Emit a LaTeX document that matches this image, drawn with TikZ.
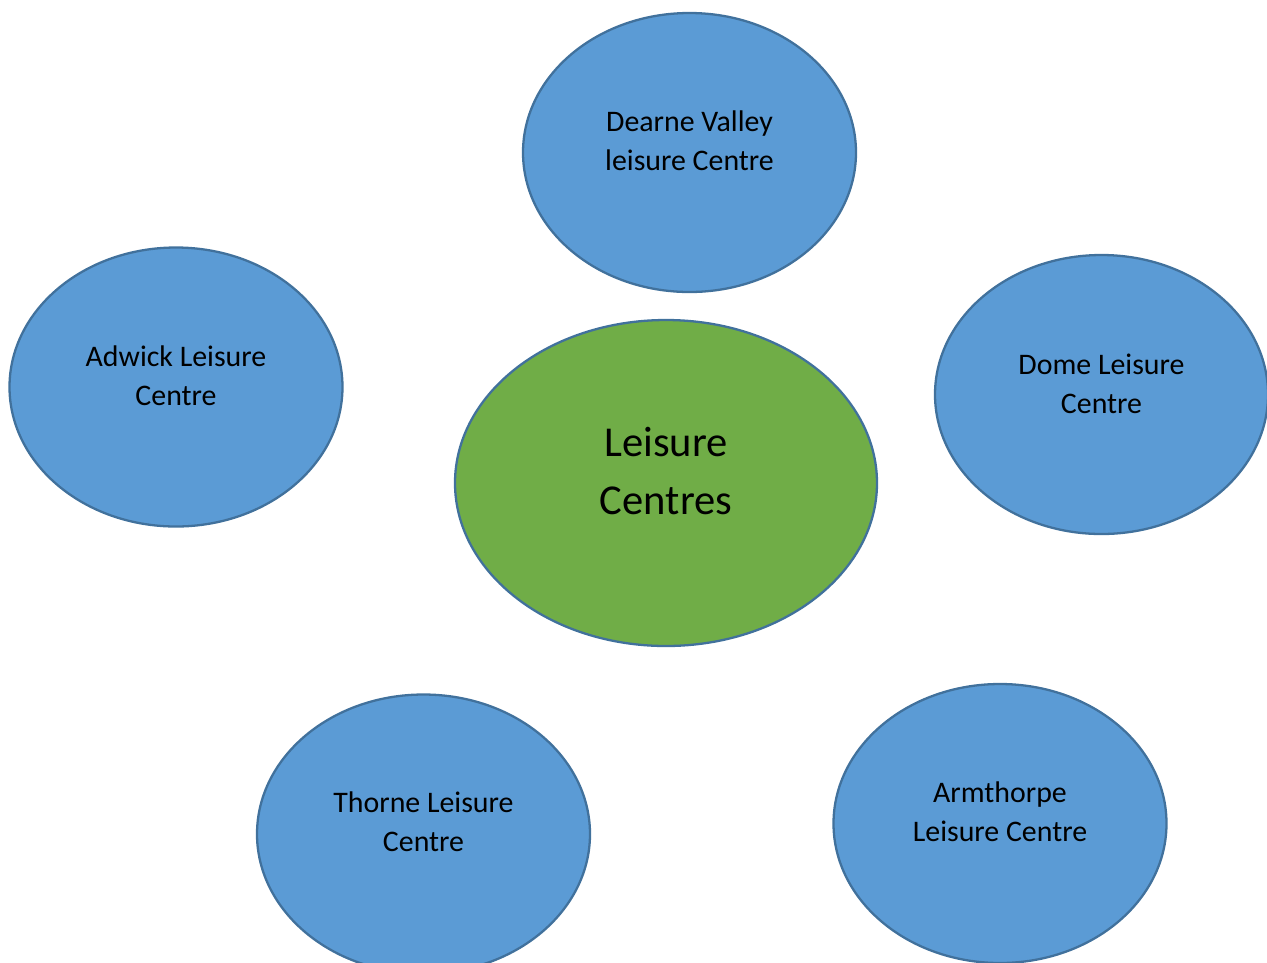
\documentclass[tikz,border=0pt]{standalone}
\usepackage{fontspec}
\setmainfont{Carlito}
\usepackage{tikz}
\usetikzlibrary{shapes.geometric, positioning}
\definecolor{centreblue}{HTML}{5B9BD5}
\definecolor{hubgreen}{HTML}{70AD47}
\definecolor{edgeblue}{HTML}{41719C}

\begin{document}
\begin{tikzpicture}[x=0.35pt, y=-0.35pt,
            site/.style={ellipse, draw=edgeblue, fill=centreblue, line width=0.8pt, minimum width=333*0.35pt, minimum height=279*0.35pt, inner sep=0pt},
            hub/.style={ellipse, draw=edgeblue, fill=hubgreen, line width=0.8pt, minimum width=422*0.35pt, minimum height=326*0.35pt, inner sep=0pt},
            sitetext/.style={align=center, font=\fontsize{10.45}{13.7}\selectfont, inner sep=0pt},
            hubtext/.style={align=center, font=\fontsize{14.9}{20}\selectfont, inner sep=0pt}
        ]
\useasboundingbox (0,0) rectangle (1267,962);

% outer centres
            \node[site] (dearne) at (689.5,152.5) {};
            \node[site] (adwick) at (176,387) {};
            \node[site] (dome) at (1101.5,394.5) {};
            \node[site] (thorne) at (423.5,834) {};
            \node[site] (armthorpe) at (1000,823.5) {};

% middle
            \node[hub] (leisure) at (666,483) {};

% texts
            \node[sitetext] (dearneT) at (689.5,141) {Dearne Valley\\leisure Centre};
            \node[sitetext] (adwickT) at (176,376) {Adwick Leisure\\Centre};
            \node[sitetext] (domeT) at (1101.5,384) {Dome Leisure\\Centre};
            \node[sitetext] (thorneT) at (423.5,822) {Thorne Leisure\\Centre};
            \node[sitetext] (armthorpeT) at (1000,812) {Armthorpe\\Leisure Centre};
            \node[hubtext] (leisureT) at (666,471) {Leisure\\Centres};

        \end{tikzpicture}
\end{document}
